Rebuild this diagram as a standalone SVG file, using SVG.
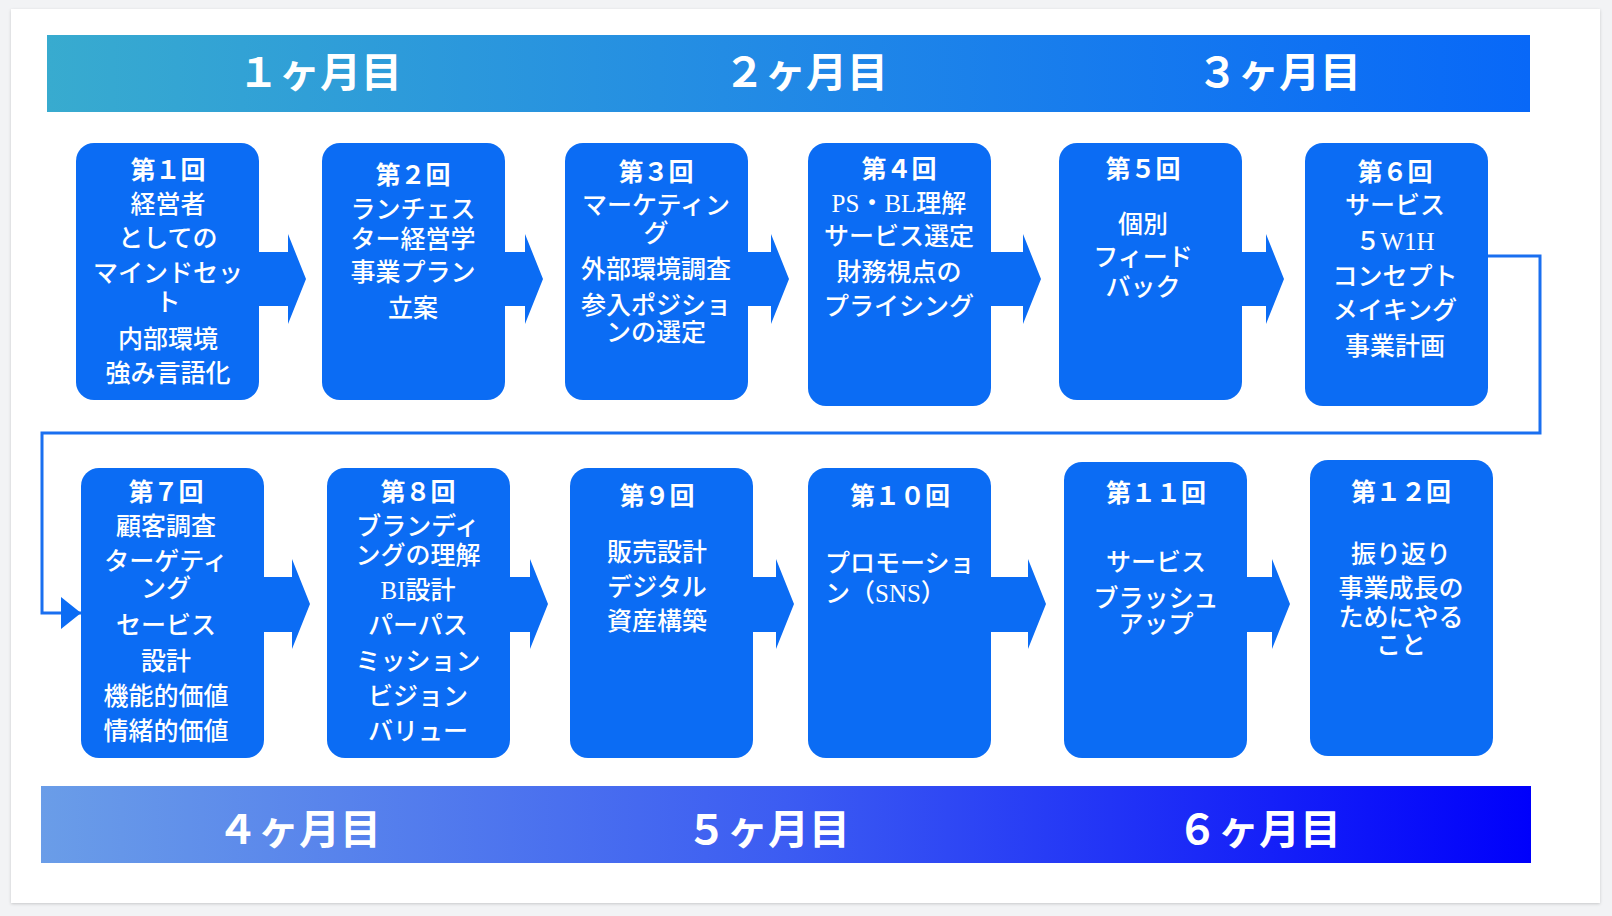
<svg xmlns="http://www.w3.org/2000/svg" width="1612" height="916" viewBox="0 0 1612 916">
<defs>
<linearGradient id="gTop" x1="0" y1="0" x2="1" y2="0">
<stop offset="0" stop-color="#38abcf"/>
<stop offset="0.5" stop-color="#2189e6"/>
<stop offset="1" stop-color="#0868f8"/>
</linearGradient>
<linearGradient id="gBot" x1="0" y1="0" x2="1" y2="0">
<stop offset="0" stop-color="#6a9de8"/>
<stop offset="0.5" stop-color="#3c5cf2"/>
<stop offset="1" stop-color="#0000fb"/>
</linearGradient>
<filter id="sh" x="-2%" y="-2%" width="104%" height="104%">
<feDropShadow dx="0" dy="1" stdDeviation="1.5" flood-color="#000" flood-opacity="0.18"/>
</filter>
<marker id="ah" markerUnits="userSpaceOnUse" markerWidth="22" markerHeight="34" refX="20" refY="16" orient="auto">
<path d="M0,0 L20,16 L0,32 Z" fill="#0b6cf4"/>
</marker>
<style>
.box{fill:#0b6cf4;}
.arr{fill:#0b6cf4;}
.ttl{font-family:"Noto Sans CJK JP",sans-serif;font-weight:700;font-size:25px;fill:#fff;text-anchor:middle;dominant-baseline:central;}
.bd{font-family:"Liberation Serif","Noto Sans CJK JP",serif;font-weight:500;font-size:25px;fill:#fff;text-anchor:middle;dominant-baseline:central;}
.mon{font-family:"Noto Sans CJK JP",sans-serif;font-weight:700;font-size:41px;fill:#fff;text-anchor:middle;dominant-baseline:central;}
.conn{fill:none;stroke:#1a6ff0;stroke-width:3;}
</style>
</defs>
<rect x="0" y="0" width="1612" height="916" fill="#f2f3f5"/>
<rect x="11" y="9" width="1589" height="894" fill="#ffffff" filter="url(#sh)"/>

<g id="banner-top">
<rect x="47" y="35" width="1483" height="77" fill="url(#gTop)"/>
<text class="mon" x="320" y="69">１ヶ月目</text>
<text class="mon" x="806" y="69">２ヶ月目</text>
<text class="mon" x="1279" y="69">３ヶ月目</text>
</g>
<g id="banner-bottom">
<rect x="41" y="786" width="1490" height="77" fill="url(#gBot)"/>
<text class="mon" x="299" y="826">４ヶ月目</text>
<text class="mon" x="768" y="826">５ヶ月目</text>
<text class="mon" x="1259" y="826">６ヶ月目</text>
</g>

<g id="connectors">
<path class="arr" d="M257,252 H288 V234 L306,279 L288,324 V306 H257 Z"/>
<path class="arr" d="M503,252 H525 V234 L543,279 L525,324 V306 H503 Z"/>
<path class="arr" d="M746,252 H771 V234 L789,279 L771,324 V306 H746 Z"/>
<path class="arr" d="M989,252 H1023 V234 L1041,279 L1023,324 V306 H989 Z"/>
<path class="arr" d="M1240,252 H1266 V234 L1284,279 L1266,324 V306 H1240 Z"/>
<path class="arr" d="M262,577 H292 V559 L310,604 L292,649 V632 H262 Z"/>
<path class="arr" d="M508,577 H530 V559 L548,604 L530,649 V632 H508 Z"/>
<path class="arr" d="M751,577 H776 V559 L794,604 L776,649 V632 H751 Z"/>
<path class="arr" d="M989,577 H1028 V559 L1046,604 L1028,649 V632 H989 Z"/>
<path class="arr" d="M1245,577 H1272 V559 L1290,604 L1272,649 V632 H1245 Z"/>
<path class="conn" d="M1488,256 H1540 V433 H42 V613 H81" marker-end="url(#ah)"/>
</g>

<g id="n1">
<rect class="box" x="76" y="143" width="183" height="257" rx="18"/>
<text class="ttl" x="168" y="168">第１回</text>
<text class="bd" x="168" y="204">経営者</text>
<text class="bd" x="168" y="238">としての</text>
<text class="bd" x="168" y="273">マインドセッ</text>
<text class="bd" x="168" y="302">ト</text>
<text class="bd" x="168" y="339">内部環境</text>
<text class="bd" x="168" y="373">強み言語化</text>
</g>
<g id="n2">
<rect class="box" x="322" y="143" width="183" height="257" rx="18"/>
<text class="ttl" x="413" y="173">第２回</text>
<text class="bd" x="413" y="209">ランチェス</text>
<text class="bd" x="413" y="239">ター経営学</text>
<text class="bd" x="413" y="272">事業プラン</text>
<text class="bd" x="413" y="308">立案</text>
</g>
<g id="n3">
<rect class="box" x="565" y="143" width="183" height="257" rx="18"/>
<text class="ttl" x="656" y="170">第３回</text>
<text class="bd" x="656" y="205">マーケティン</text>
<text class="bd" x="656" y="233">グ</text>
<text class="bd" x="656" y="269">外部環境調査</text>
<text class="bd" x="656" y="305">参入ポジショ</text>
<text class="bd" x="656" y="332">ンの選定</text>
</g>
<g id="n4">
<rect class="box" x="808" y="143" width="183" height="263" rx="18"/>
<text class="ttl" x="899" y="167">第４回</text>
<text class="bd" x="899" y="203">PS・BL理解</text>
<text class="bd" x="899" y="236">サービス選定</text>
<text class="bd" x="899" y="272">財務視点の</text>
<text class="bd" x="899" y="306">プライシング</text>
</g>
<g id="n5">
<rect class="box" x="1059" y="143" width="183" height="257" rx="18"/>
<text class="ttl" x="1143" y="167">第５回</text>
<text class="bd" x="1143" y="224">個別</text>
<text class="bd" x="1143" y="257">フィード</text>
<text class="bd" x="1143" y="287">バック</text>
</g>
<g id="n6">
<rect class="box" x="1305" y="143" width="183" height="263" rx="18"/>
<text class="ttl" x="1395" y="170">第６回</text>
<text class="bd" x="1395" y="205">サービス</text>
<text class="bd" x="1395" y="241">５W1H</text>
<text class="bd" x="1395" y="276">コンセプト</text>
<text class="bd" x="1395" y="310">メイキング</text>
<text class="bd" x="1395" y="346">事業計画</text>
</g>

<g id="n7">
<rect class="box" x="81" y="468" width="183" height="290" rx="18"/>
<text class="ttl" x="166" y="490">第７回</text>
<text class="bd" x="166" y="526">顧客調査</text>
<text class="bd" x="166" y="561">ターゲティ</text>
<text class="bd" x="166" y="588">ング</text>
<text class="bd" x="166" y="625">セービス</text>
<text class="bd" x="166" y="661">設計</text>
<text class="bd" x="166" y="696">機能的価値</text>
<text class="bd" x="166" y="731">情緒的価値</text>
</g>
<g id="n8">
<rect class="box" x="327" y="468" width="183" height="290" rx="18"/>
<text class="ttl" x="418" y="490">第８回</text>
<text class="bd" x="418" y="526">ブランディ</text>
<text class="bd" x="418" y="555">ングの理解</text>
<text class="bd" x="418" y="590">BI設計</text>
<text class="bd" x="418" y="625">パーパス</text>
<text class="bd" x="418" y="661">ミッション</text>
<text class="bd" x="418" y="696">ビジョン</text>
<text class="bd" x="418" y="731">バリュー</text>
</g>
<g id="n9">
<rect class="box" x="570" y="468" width="183" height="290" rx="18"/>
<text class="ttl" x="657" y="494">第９回</text>
<text class="bd" x="657" y="552">販売設計</text>
<text class="bd" x="657" y="587">デジタル</text>
<text class="bd" x="657" y="621">資産構築</text>
</g>
<g id="n10">
<rect class="box" x="808" y="468" width="183" height="290" rx="18"/>
<text class="ttl" x="900" y="494">第１０回</text>
<text class="bd" x="825" y="563" style="text-anchor:start">プロモーショ</text>
<text class="bd" x="825" y="593" style="text-anchor:start">ン（SNS）</text>
</g>
<g id="n11">
<rect class="box" x="1064" y="462" width="183" height="296" rx="18"/>
<text class="ttl" x="1156" y="491">第１１回</text>
<text class="bd" x="1156" y="562">サービス</text>
<text class="bd" x="1156" y="598">ブラッシュ</text>
<text class="bd" x="1156" y="624">アップ</text>
</g>
<g id="n12">
<rect class="box" x="1310" y="460" width="183" height="296" rx="18"/>
<text class="ttl" x="1401" y="490">第１２回</text>
<text class="bd" x="1401" y="554">振り返り</text>
<text class="bd" x="1401" y="588">事業成長の</text>
<text class="bd" x="1401" y="617">ためにやる</text>
<text class="bd" x="1401" y="645">こと</text>
</g>
</svg>
